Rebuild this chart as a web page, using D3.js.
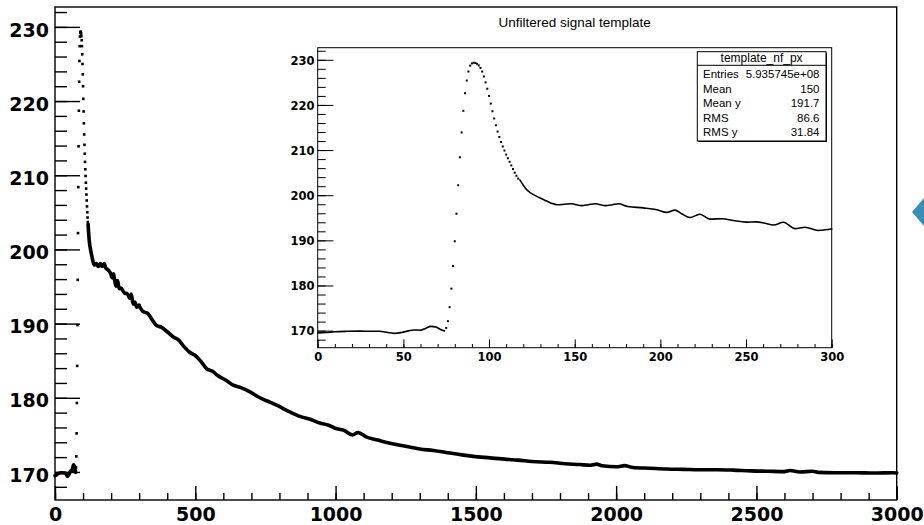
<!DOCTYPE html>
<html>
<head>
<meta charset="utf-8">
<script src="https://cdn.jsdelivr.net/npm/d3@7/dist/d3.min.js"></script>
<style>
  body { margin: 0; background: #fff; }
  svg { display: block; }
</style>
</head>
<body>
<svg id="chart"></svg>
<script>
// baseline before the pulse, bins 0..74
const headBase = [[0,169.5],[5,169.6],[10,169.75],[17,169.85],[25,169.9],[30,169.85],[36,169.85],[41,169.6],[45,169.4],[49,169.6],[53,169.95],[56,170.15],[60,170.1],[63,170.5],[66,170.95],[69,170.8],[72,170.2],[74,169.95]];
// one marker per bin where the pulse rises and falls
const pulseX = d3.range(75, 118);
const pulseY = [170.6,172.1,175.2,179.3,184.3,189.8,195.9,202.2,208.4,213.9,218.7,222.6,225.4,227.4,228.7,229.2,229.35,229.3,229.1,228.75,228.2,227.4,226.3,225.0,223.6,222.0,220.3,218.6,217.0,215.5,214.1,212.9,211.8,210.8,209.9,209.0,208.2,207.4,206.6,205.8,205.0,204.3,203.7];
// after the pulse, bins 118..300
const headTail = [[118,203.4],[122,201.2],[127,199.9],[132,199.0],[136,198.3],[140,197.9],[144,198.0],[148,198.1],[154,197.7],[158,197.9],[162,198.1],[168,197.7],[172,197.9],[175.5,198.1],[181,197.5],[190,197.2],[198,196.8],[203.7,196.2],[208.5,196.7],[212.4,195.9],[217.3,195.05],[223,195.8],[229,194.7],[236,194.8],[242.6,194.4],[250,194.05],[256,194.1],[261,193.8],[266,193.4],[271.8,194.0],[278.6,192.6],[284.4,192.9],[292,192.2],[300,192.5]];
// long decay, bins 300..3000
const decay = [[300,192.4],[315,191.6],[330,191.4],[345,190.6],[363,189.7],[380,189.5],[400,188.9],[422,188.2],[440,187.8],[460,186.9],[481,186.1],[500,185.7],[520,184.9],[541,183.9],[560,183.6],[580,183.0],[612,182.3],[635,181.7],[660,181.4],[695,180.8],[720,180.2],[754,179.6],[790,179.0],[837,178.1],[873,177.5],[910,177.1],[944,176.6],[975,176.3],[998,175.9],[1030,175.6],[1060,175.0],[1080,175.3],[1111,174.7],[1150,174.3],[1190,173.9],[1229,173.6],[1260,173.4],[1300,173.1],[1348,172.9],[1400,172.6],[1450,172.3],[1491,172.1],[1550,171.9],[1610,171.7],[1650,171.6],[1700,171.4],[1764,171.3],[1820,171.1],[1870,171.0],[1907,170.9],[1930,171.05],[1950,170.85],[2002,170.7],[2030,170.85],[2060,170.6],[2120,170.5],[2180,170.4],[2240,170.35],[2300,170.3],[2360,170.3],[2417,170.25],[2480,170.15],[2540,170.1],[2600,170.05],[2620,170.2],[2655,170.0],[2700,170.1],[2720,169.95],[2780,169.9],[2850,169.9],[2920,169.85],[2988,169.9],[3000,169.85]];

const mainXTicks = [0, 500, 1000, 1500, 2000, 2500, 3000];
const insetXTicks = [0, 50, 100, 150, 200, 250, 300];
const yTicks = [170, 180, 190, 200, 210, 220, 230];

const statsTitle = "template_nf_px";
const statsLabels = ["Entries", "Mean", "Mean y", "RMS", "RMS y"];
const statsValues = ["5.935745e+08", "150", "191.7", "86.6", "31.84"];
const insetTitle = "Unfiltered signal template";

const width = 924, height = 525;
const svg = d3.select("#chart").attr("width", width).attr("height", height);
svg.append("rect").attr("width", width).attr("height", height).attr("fill", "#fff");

const yDomain = [166.22, 232.68];
const fmt = d3.format("d");

// draws one ROOT-like frame: ticks pointing in, no ticks on top/right
function drawFrame(g, x, y, opt) {
  const [x0, x1] = x.range();
  const [y1, y0] = y.range();

  g.append("g")
    .attr("transform", `translate(0,${y1})`)
    .call(d3.axisBottom(x).tickValues(d3.range(opt.xMinor[0], opt.xMinor[1] + 1, opt.xMinor[2]))
      .tickSizeInner(-opt.xMinorLen).tickSizeOuter(0).tickFormat(""))
    .call(a => a.select(".domain").remove());
  g.append("g")
    .attr("transform", `translate(0,${y1})`)
    .call(d3.axisBottom(x).tickValues(opt.xTicks).tickFormat(fmt).tickSizeInner(-opt.xMajorLen)
      .tickSizeOuter(0).tickPadding(opt.xPad))
    .call(a => a.select(".domain").remove())
    .call(a => a.selectAll("text").attr("font-size", opt.font).attr("font-weight", "bold")
      .attr("font-family", "DejaVu Sans").attr("fill", "#000"));

  g.append("g")
    .attr("transform", `translate(${x0},0)`)
    .call(d3.axisLeft(y).tickValues(d3.range(168, 233, 2))
      .tickSizeInner(-opt.yMinorLen).tickSizeOuter(0).tickFormat(""))
    .call(a => a.select(".domain").remove());
  g.append("g")
    .attr("transform", `translate(${x0},0)`)
    .call(d3.axisLeft(y).tickValues(yTicks).tickFormat(fmt).tickSizeInner(-opt.yMajorLen)
      .tickSizeOuter(0).tickPadding(opt.yPad))
    .call(a => a.select(".domain").remove())
    .call(a => a.selectAll("text").attr("font-size", opt.font).attr("font-weight", "bold")
      .attr("font-family", "DejaVu Sans").attr("fill", "#000").attr("dy", opt.yDy));

  g.selectAll(".tick line").attr("stroke", "#000").attr("stroke-width", opt.lw);

  g.append("rect")
    .attr("x", x0).attr("y", y0).attr("width", x1 - x0).attr("height", y1 - y0)
    .attr("fill", "none").attr("stroke", "#000").attr("stroke-width", opt.lw);
}

function drawSeries(g, x, y, lw, dot) {
  const line = d3.line().x(d => x(d[0])).y(d => y(d[1])).curve(d3.curveMonotoneX);
  const parts = [headBase, headTail];
  if (x.domain()[1] > 300) parts.push(decay);
  parts.forEach(p => {
    g.append("path").datum(p.filter(d => d[0] <= x.domain()[1]))
      .attr("d", line).attr("fill", "none").attr("stroke", "#000")
      .attr("stroke-width", lw).attr("stroke-linejoin", "round").attr("stroke-linecap", "round");
  });
  g.selectAll(null).data(pulseX).enter().append("rect")
    .attr("x", (d) => x(d) - dot / 2)
    .attr("y", (d, i) => y(pulseY[i]) - dot / 2)
    .attr("width", dot).attr("height", dot).attr("fill", "#000");
}

// main frame
const xMain = d3.scaleLinear().domain([0, 3000]).range([55, 896.7]);
const yMain = d3.scaleLinear().domain(yDomain).range([500, 7]);
const main = svg.append("g");
drawSeries(main, xMain, yMain, 3.6, 2.6);
drawFrame(main, xMain, yMain, {
  xTicks: mainXTicks, xMinor: [0, 3000, 100], xMajorLen: 14, xMinorLen: 7, xPad: 8,
  yMajorLen: 25, yMinorLen: 12, yPad: 6, font: 19, yDy: "0.48em", lw: 1.4
});

// inset
const xIn = d3.scaleLinear().domain([0, 300]).range([317.7, 831.7]);
const yIn = d3.scaleLinear().domain(yDomain).range([347.7, 47.7]);
const inset = svg.append("g");
inset.append("rect").attr("x", 317.7).attr("y", 47.7).attr("width", 514).attr("height", 300).attr("fill", "#fff");
drawSeries(inset, xIn, yIn, 1.6, 2);
drawFrame(inset, xIn, yIn, {
  xTicks: insetXTicks, xMinor: [0, 300, 10], xMajorLen: 8.3, xMinorLen: 3.7, xPad: 5,
  yMajorLen: 15.7, yMinorLen: 8, yPad: 3.2, font: 11.5, yDy: "0.37em", lw: 1
});

svg.append("text")
  .attr("x", 574.7).attr("y", 27)
  .attr("text-anchor", "middle")
  .attr("font-family", "Liberation Sans").attr("font-size", 13.5)
  .text(insetTitle);

// stats box
const sb = svg.append("g");
sb.append("rect").attr("x", 698.3).attr("y", 52.7).attr("width", 128.7).attr("height", 89.3).attr("fill", "#000");
sb.append("rect").attr("x", 697.3).attr("y", 51.7).attr("width", 128.7).attr("height", 89.3)
  .attr("fill", "#fff").attr("stroke", "#000").attr("stroke-width", 1);
sb.append("line").attr("x1", 697.3).attr("x2", 826).attr("y1", 65.3).attr("y2", 65.3)
  .attr("stroke", "#000").attr("stroke-width", 1);
sb.append("text").attr("x", 761.6).attr("y", 61.5).attr("text-anchor", "middle")
  .attr("font-family", "Liberation Sans").attr("font-size", 12).text(statsTitle);
statsLabels.forEach((lab, i) => {
  const yy = 78 + i * 14.5;
  sb.append("text").attr("x", 703).attr("y", yy)
    .attr("font-family", "Liberation Sans").attr("font-size", 11.5).text(lab);
  sb.append("text").attr("x", 819.5).attr("y", yy).attr("text-anchor", "end")
    .attr("font-family", "Liberation Sans").attr("font-size", 11.5).text(statsValues[i]);
});

// blue arrow at the right edge
svg.append("polygon")
  .attr("points", "924,198 912,212 924,226")
  .attr("fill", "#3a8db4");
</script>
</body>
</html>
